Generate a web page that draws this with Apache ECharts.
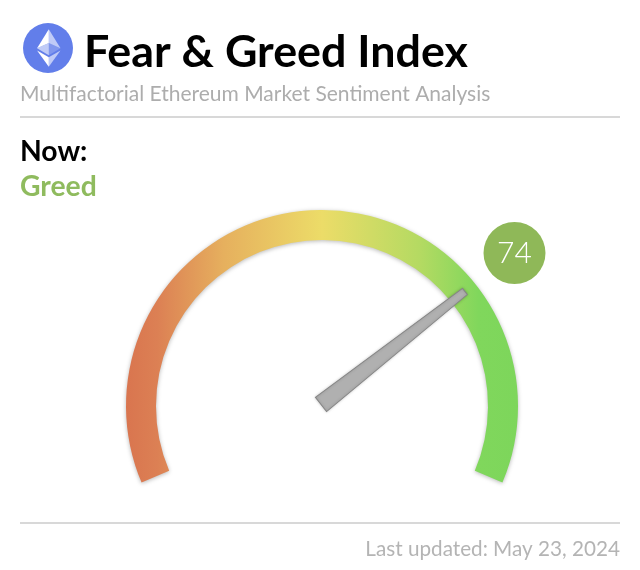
<!DOCTYPE html>
<html><head><meta charset="utf-8">
<style>html,body{margin:0;padding:0;background:#fff}#c{width:640px;height:570px}</style>
<script src="https://cdn.jsdelivr.net/npm/echarts@6/dist/echarts.min.js"></script>
</head><body><div id="c"></div>
<script>
const gaugeValue = [74];
const axisRange = [0, 100];
const gradientStops = [[0,'#d9754f'],[0.08,'#dc8054'],[0.25,'#e6b05e'],[0.5,'#ecdc68'],[0.75,'#b4da62'],[0.9,'#80d75c'],[1,'#7dd65b']];
const titleText = 'Fear & Greed Index';
const subtitleText = 'Multifactorial Ethereum Market Sentiment Analysis';
const nowLabel = 'Now:';
const stateLabel = 'Greed';
const updatedText = 'Last updated: May 23, 2024';
const ethPolys = [
 [[[16.5,4],[16.5,12.87],[24,16.22]],.6],
 [[[16.5,4],[9,16.22],[16.5,12.87]],1],
 [[[16.5,21.97],[16.5,28],[24,17.62]],.6],
 [[[16.5,28],[16.5,21.97],[9,17.62]],1],
 [[[16.5,20.57],[24,16.22],[16.5,12.87]],.2],
 [[[9,16.22],[16.5,20.57],[16.5,12.87]],.6]];
const F = 'Lato';
const chart = echarts.init(document.getElementById('c'), null, {renderer:'canvas'});
const scale = 50/32;
chart.setOption({
  animation:false,
  textStyle:{fontFamily:F},
  graphic:[
    {type:'circle',shape:{cx:48,cy:48,r:25},style:{fill:'#627eea'}},
    ...ethPolys.map(p=>({type:'polygon',x:23,y:23,scaleX:scale,scaleY:scale,
       shape:{points:p[0]},style:{fill:'#fff',opacity:p[1]}})),
    {type:'text',x:84,y:53,style:{text:titleText,font:'bold 44.8px Lato',fill:'#000',textVerticalAlign:'middle'}},
    {type:'text',x:20,y:94,style:{text:subtitleText,font:'21px Lato',fill:'#adadad',textVerticalAlign:'middle'}},
    {type:'line',shape:{x1:20,y1:117,x2:620,y2:117},style:{stroke:'#d8d8d8',lineWidth:2}},
    {type:'text',x:20,y:152,style:{text:nowLabel,font:'bold 28.3px Lato',fill:'#000',textVerticalAlign:'middle'}},
    {type:'text',x:20,y:187,style:{text:stateLabel,font:'bold 28.3px Lato',fill:'#8fbb5e',textVerticalAlign:'middle'}},
    {type:'line',shape:{x1:20,y1:523,x2:620,y2:523},style:{stroke:'#d8d8d8',lineWidth:2}},
    {type:'text',x:620,y:549,style:{text:updatedText,font:'20.7px Lato',fill:'#b4b4b4',textAlign:'right',textVerticalAlign:'middle'}}
  ],
  series:[
    {type:'gauge',center:[322,406],radius:196,startAngle:203,endAngle:-23,min:axisRange[0],max:axisRange[1],
     axisLine:{roundCap:false,lineStyle:{width:30,shadowColor:'rgba(0,0,0,0.28)',shadowBlur:4,shadowOffsetY:1,
       color:[[1,new echarts.graphic.LinearGradient(0,0,1,0,gradientStops.map(s=>({offset:s[0],color:s[1]})))]]}},
     axisTick:{show:false},splitLine:{show:false},axisLabel:{show:false},pointer:{show:false},
     title:{show:false},detail:{show:false},data:[{value:gaugeValue[0]}],silent:true},
    {type:'gauge',center:[321,404.5],radius:196,startAngle:198,endAngle:-18,min:axisRange[0],max:axisRange[1],
     axisLine:{show:false},axisTick:{show:false},splitLine:{show:false},axisLabel:{show:false},
     pointer:{show:true,icon:'path://M2.8 0L7.2 0L10 100L0 100Z',length:183,width:18,offsetCenter:[0,0],keepAspect:false,
       itemStyle:{color:'#b0b0b0',borderColor:'#858585',borderWidth:1,shadowColor:'rgba(0,0,0,0.2)',shadowBlur:3}},
     anchor:{show:false},title:{show:false},
     detail:{show:true,valueAnimation:false,offsetCenter:[193.5,-151.5],width:62,height:62,lineHeight:62,borderRadius:31,padding:0,
       backgroundColor:'#8fb858',color:'#fff',fontFamily:F,fontWeight:300,fontSize:30,formatter:'{value}'},
     data:[{value:gaugeValue[0]}],silent:true}
  ]
});
</script></body></html>
